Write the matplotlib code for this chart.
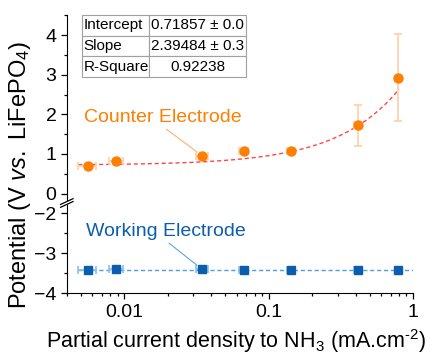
import matplotlib
matplotlib.use('Agg')
import matplotlib.pyplot as plt
from matplotlib.ticker import MultipleLocator, FixedLocator
from matplotlib.lines import Line2D
import numpy as np

plt.rcParams['font.family'] = 'Liberation Sans'
plt.rcParams['mathtext.fontset'] = 'custom'
plt.rcParams['mathtext.rm'] = 'Liberation Sans'
plt.rcParams['mathtext.it'] = 'Liberation Sans:italic'

# data
currentDensity = [0.00557, 0.0088, 0.0347, 0.0673, 0.143, 0.413, 0.787]
currentErr = [0.0008, 0.001, 0.0033, 0.005, 0.01, 0.02, 0.03]
counterPotential = [0.70, 0.83, 0.95, 1.07, 1.07, 1.72, 2.93]
counterErr = [0.04, 0.05, 0.04, 0.03, 0.03, 0.52, 1.1]
workingPotential = [-3.42, -3.39, -3.40, -3.41, -3.43, -3.43, -3.41]
workingMean = -3.42

fitIntercept = 0.71857
fitSlope = 2.39484
fitR2 = 0.92238
tableRows = [['Intercept', '0.71857 \u00b1 0.0'],
             ['Slope', '2.39484 \u00b1 0.3'],
             ['R-Square', '%.5f' % fitR2]]

orange = '#FF7F00'
orangeLight = '#FFCFA6'
blue = '#0A5EAD'
blueLight = '#8CC0EA'

fig = plt.figure(figsize=(4.43, 3.58), dpi=100)
left = 0.1508
width = 0.7815
axTop = fig.add_axes([left, 0.4427, width, 0.5143])
axBot = fig.add_axes([left, 0.1807, width, 0.2467], sharex=axTop)

for ax in (axTop, axBot):
    ax.set_xscale('log')
    ax.spines['right'].set_visible(False)
    ax.spines['top'].set_visible(False)
    ax.tick_params(which='both', direction='out', labelsize=14, width=0.9)
    ax.tick_params(which='major', length=4)
    ax.tick_params(which='minor', length=2.5)
    ax.yaxis.set_minor_locator(MultipleLocator(0.5))
    ax.patch.set_alpha(0)

axTop.spines['bottom'].set_visible(False)
axTop.tick_params(axis='x', which='both', bottom=False, labelbottom=False)
axTop.set_xlim(0.004, 1)
axTop.set_ylim(-0.15, 4.5)
axTop.yaxis.set_major_locator(FixedLocator([0, 1, 2, 3, 4]))
axBot.set_ylim(-4, -1.8)
axBot.yaxis.set_major_locator(FixedLocator([-4, -3, -2]))
axBot.set_xticks([0.01, 0.1, 1])
axBot.set_xticklabels(['0.01', '0.1', '1'])

# counter electrode
xFit = np.geomspace(0.0048, 0.8, 100)
axTop.plot(xFit, fitIntercept + fitSlope * xFit, ls=(0, (3, 2)), color='#FF4848', lw=1, zorder=2)
axTop.errorbar(currentDensity, counterPotential, yerr=counterErr, xerr=currentErr,
               fmt='o', color=orange, ms=6.5, ecolor=orangeLight, elinewidth=1.2,
               capsize=3, capthick=1.2, zorder=3)
axTop.annotate('Counter Electrode', xy=(0.0319, 1.05), xytext=(0.00526, 1.91),
               color=orange, fontsize=14, va='center', ha='left',
               arrowprops=dict(arrowstyle='-', color='#FFB070', lw=0.8,
                               shrinkA=0, shrinkB=0, relpos=(0.5, 0)))

# working electrode
axBot.plot([0.0048, 1.0], [workingMean, workingMean], ls=(0, (3, 2)), color='#4A9FE0', lw=1, zorder=2)
axBot.errorbar(currentDensity, workingPotential, xerr=currentErr,
               fmt='s', color=blue, ms=5.5, ecolor=blueLight, elinewidth=1.2,
               capsize=3, capthick=1.2, zorder=3)
axBot.annotate('Working Electrode', xy=(0.0319, -3.3), xytext=(0.0054, -2.47),
               color=blue, fontsize=14, va='center', ha='left',
               arrowprops=dict(arrowstyle='-', color='#5AA8E0', lw=0.8,
                               shrinkA=0, shrinkB=0, relpos=(0.5, 0)))

# fit table
tbl = axTop.table(cellText=tableRows, colWidths=[0.41, 0.59], cellLoc='left',
                  bbox=[0.044, 0.665, 0.474, 0.337])
tbl.auto_set_font_size(False)
tbl.set_fontsize(11)
for (r, c), cell in tbl.get_celld().items():
    cell.set_edgecolor('#A0A0A0')
    cell.set_linewidth(0.8)
    cell.PAD = 0.02
    if c == 1:
        cell.get_text().set_ha('center')
        cell._loc = 'center'

# break marks on the y axis
xs = left
for yb in (0.437, 0.429):
    fig.add_artist(Line2D([xs - 0.014, xs + 0.014], [yb - 0.008, yb + 0.008],
                          transform=fig.transFigure, color='k', lw=0.9))

fig.text(0.045, 0.51, 'Potential (V $\\it{vs.}$ LiFePO$_4$)', rotation=90,
         ha='center', va='center', fontsize=17)
fig.text(0.532, 0.048, 'Partial current density to NH$_3$ (mA.cm$^{\\text{-}2}$)',
         ha='center', va='center', fontsize=15.5)

fig.savefig('out.png', dpi=100)
